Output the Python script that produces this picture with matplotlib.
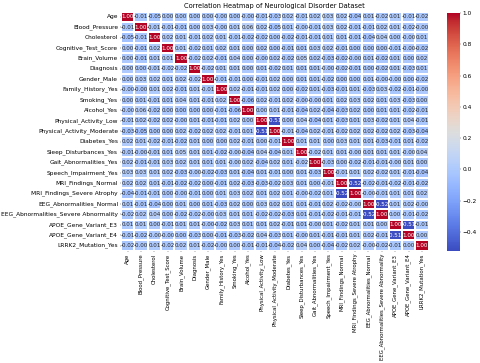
import numpy as np
import pandas as pd
import matplotlib
matplotlib.use('Agg')
import matplotlib.pyplot as plt
import seaborn as sns

labels = ['Age', 'Blood_Pressure', 'Cholesterol', 'Cognitive_Test_Score', 'Brain_Volume',
          'Diagnosis', 'Gender_Male', 'Family_History_Yes', 'Smoking_Yes', 'Alcohol_Yes',
          'Physical_Activity_Low', 'Physical_Activity_Moderate', 'Diabetes_Yes',
          'Sleep_Disturbances_Yes', 'Gait_Abnormalities_Yes', 'Speech_Impairment_Yes',
          'MRI_Findings_Normal', 'MRI_Findings_Severe Atrophy', 'EEG_Abnormalities_Normal',
          'EEG_Abnormalities_Severe Abnormality', 'APOE_Gene_Variant_E3',
          'APOE_Gene_Variant_E4', 'LRRK2_Mutation_Yes']

# lower triangle of the correlation matrix (row i, columns 0..i-1)
lower = [
    [],
    [-0.01],
    [-0.05, -0.01],
    [0.00, -0.01, 0.02],
    [0.00, -0.01, 0.01, 0.01],
    [0.00, 0.00, -0.01, -0.02, -0.02],
    [0.00, 0.03, 0.02, 0.01, 0.02, -0.02],
    [-0.00, -0.00, 0.01, 0.02, -0.01, 0.01, -0.01],
    [0.00, 0.01, -0.01, 0.01, 0.04, 0.01, -0.01, 0.02],
    [-0.00, 0.06, -0.02, 0.00, 0.00, 0.00, 0.00, -0.01, -0.06],
    [-0.01, 0.02, -0.02, 0.02, -0.00, 0.01, -0.01, -0.01, 0.02, 0.00],
    [-0.03, -0.05, 0.00, 0.00, 0.02, -0.02, 0.02, 0.02, -0.01, 0.01, -0.51],
    [0.02, 0.01, -0.02, -0.01, -0.02, 0.01, 0.00, 0.00, 0.02, -0.01, 0.00, -0.01],
    [-0.01, -0.00, -0.01, 0.01, 0.05, 0.01, 0.01, -0.02, -0.00, -0.04, 0.04, -0.04, 0.01],
    [0.02, -0.01, -0.01, 0.03, 0.02, 0.01, 0.01, 0.01, -0.00, 0.02, -0.04, 0.02, 0.01, -0.02],
    [0.03, 0.03, 0.01, 0.02, -0.03, -0.00, -0.02, -0.03, 0.01, -0.04, 0.01, -0.01, 0.00, 0.01,
     -0.03],
    [0.02, 0.02, 0.01, -0.01, -0.02, -0.02, 0.00, -0.01, 0.02, -0.03, -0.03, -0.02, 0.03, 0.01,
     0.00, -0.01],
    [-0.04, -0.01, -0.01, 0.00, -0.00, -0.01, 0.00, 0.01, 0.03, 0.02, 0.01, 0.02, 0.01, -0.00,
     -0.02, 0.01, -0.52],
    [0.01, -0.01, -0.04, 0.00, 0.01, 0.00, 0.01, -0.03, 0.02, 0.00, 0.03, 0.02, 0.01, 0.01,
     -0.01, 0.02, -0.02, -0.00],
    [-0.02, 0.02, 0.04, 0.00, -0.02, -0.02, -0.00, 0.03, 0.01, 0.01, -0.02, -0.02, -0.03, 0.01,
     -0.01, -0.02, -0.01, -0.01, -0.52],
    [0.01, 0.01, 0.00, -0.01, 0.01, 0.01, -0.00, -0.02, 0.03, 0.01, 0.01, 0.02, -0.01, 0.01,
     -0.00, 0.01, -0.02, 0.01, 0.01, 0.00],
    [-0.01, -0.02, -0.00, -0.00, 0.00, -0.03, 0.00, -0.01, -0.03, -0.02, 0.04, -0.03, 0.01,
     -0.00, 0.01, -0.01, -0.01, 0.01, 0.02, -0.01, -0.51],
    [-0.02, -0.00, 0.01, -0.02, 0.02, 0.01, -0.02, -0.00, 0.00, -0.01, -0.01, -0.04, -0.02,
     0.04, 0.00, -0.04, -0.02, 0.02, -0.00, -0.02, -0.01, 0.00],
]

# build the full symmetric matrix
n = len(labels)
corr = np.eye(n)
for i, row in enumerate(lower):
    for j, v in enumerate(row):
        corr[i, j] = v
        corr[j, i] = v
corr_df = pd.DataFrame(corr, index=labels, columns=labels)

fig = plt.figure(figsize=(16, 12.1), dpi=30)
ax = fig.add_axes([0.252, 0.309, 0.641, 0.659])
cax = fig.add_axes([0.931, 0.309, 0.027, 0.655])

sns.heatmap(corr_df, annot=True, fmt='.2f', cmap='coolwarm', linewidths=0.5,
            ax=ax, cbar_ax=cax, annot_kws={'fontsize': 13.5})
ax.set_title('Correlation Heatmap of Neurological Disorder Dataset', fontsize=16, pad=8)
ax.tick_params(axis='y', labelsize=14)
ax.tick_params(axis='x', labelsize=13, pad=3)
cax.tick_params(labelsize=14)

fig.savefig('out.png', dpi=30)
